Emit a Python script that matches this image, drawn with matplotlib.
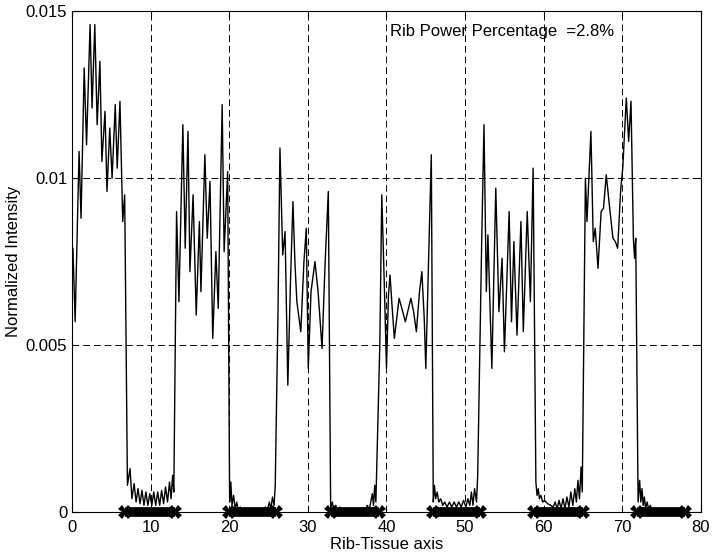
import matplotlib.pyplot as plt
import numpy as np

plt.rcParams.update({
    "font.family": ["Liberation Sans", "DejaVu Sans"],
    "font.size": 12,
})

# tissue segments (high intensity)
x_t1 = [0.0, 0.12, 0.4, 0.9, 1.15, 1.55, 1.85, 2.3, 2.55, 2.9, 3.2, 3.55, 3.8, 4.2, 4.45, 4.8, 5.1, 5.5, 5.75, 6.1, 6.45, 6.7]
y_t1 = [0.0072, 0.0079, 0.0057, 0.0108, 0.0088, 0.0133, 0.0110, 0.0146, 0.0121, 0.0146, 0.0116, 0.0135, 0.0105, 0.0120, 0.0096, 0.0115, 0.0100, 0.0122, 0.0103, 0.0123, 0.0087, 0.0095]

x_t2 = [13.3, 13.6, 14.1, 14.4, 14.75, 15.0, 15.4, 15.8, 16.2, 16.4, 16.9, 17.2, 17.55, 17.9, 18.3, 18.6, 19.1, 19.35, 19.8]
y_t2 = [0.0090, 0.0063, 0.0116, 0.0079, 0.0114, 0.0072, 0.0095, 0.0059, 0.0087, 0.0066, 0.0107, 0.0082, 0.0099, 0.0052, 0.0078, 0.0061, 0.0122, 0.0078, 0.0102]

x_t3 = [26.2, 26.45, 26.8, 27.1, 27.45, 27.8, 28.1, 28.35, 28.6, 29.1, 29.5, 29.8, 30.05, 30.4, 30.9, 31.3, 31.8, 32.2, 32.6]
y_t3 = [0.0060, 0.0109, 0.0077, 0.0084, 0.0038, 0.0070, 0.0093, 0.0075, 0.0063, 0.0054, 0.0075, 0.0085, 0.0043, 0.0066, 0.0075, 0.0066, 0.0049, 0.0075, 0.0096]

x_t4 = [39.15, 39.4, 39.7, 40.0, 40.25, 40.45, 40.7, 41.0, 41.3, 41.6, 41.95, 42.4, 42.8, 43.1, 43.45, 43.8, 44.2, 44.5, 44.8, 45.0, 45.35, 45.7]
y_t4 = [0.0050, 0.0095, 0.0070, 0.0043, 0.0065, 0.0071, 0.0062, 0.0052, 0.0058, 0.0064, 0.0061, 0.0057, 0.0061, 0.0064, 0.0060, 0.0054, 0.0066, 0.0072, 0.0058, 0.0043, 0.0075, 0.0107]

x_t5 = [52.1, 52.4, 52.7, 52.9, 53.4, 53.9, 54.3, 54.7, 55.0, 55.6, 55.9, 56.2, 56.6, 57.1, 57.4, 57.9, 58.3, 58.65]
y_t5 = [0.0080, 0.0116, 0.0066, 0.0083, 0.0043, 0.0097, 0.0060, 0.0076, 0.0048, 0.0090, 0.0057, 0.0081, 0.0053, 0.0087, 0.0054, 0.0090, 0.0063, 0.0103]

x_t6 = [65.3, 65.5, 66.0, 66.3, 66.55, 66.9, 67.3, 67.6, 67.95, 68.3, 68.8, 69.1, 69.4, 69.8, 70.05, 70.5, 70.8, 71.1, 71.4, 71.55, 71.7]
y_t6 = [0.0100, 0.0087, 0.0114, 0.0081, 0.0085, 0.0073, 0.0090, 0.0091, 0.0101, 0.0093, 0.0082, 0.0081, 0.0079, 0.0097, 0.0103, 0.0124, 0.0111, 0.0123, 0.0082, 0.0076, 0.0082]

# rib segments (low intensity)
x_r1 = [7.05, 7.38, 7.62, 7.9, 8.15, 8.4, 8.65, 8.9, 9.15, 9.4, 9.65, 9.9, 10.15, 10.4, 10.65, 10.9, 11.15, 11.4, 11.65, 11.9, 12.15, 12.4, 12.6, 12.8, 12.95]
y_r1 = [0.0008, 0.0013, 0.0004, 0.00085, 0.0003, 0.0007, 0.00025, 0.00065, 0.0002, 0.0006, 0.0002, 0.00055, 0.0002, 0.0006, 0.0002, 0.0006, 0.0002, 0.00065, 0.00025, 0.00075, 0.0003, 0.0009, 0.0004, 0.0011, 0.0006]

x_r2 = [20.05, 20.2, 20.35, 20.55, 20.75, 20.95, 21.15, 21.4, 21.7, 22.0, 22.5, 23.0, 23.5, 24.0, 24.3, 24.6, 24.85, 25.1, 25.3, 25.5, 25.7, 25.85]
y_r2 = [0.0003, 0.0009, 0.0002, 0.0005, 0.0001, 0.0003, 0.00005, 0.00015, 0.00003, 0.0001, 0.00003, 0.00006, 0.00002, 0.00008, 0.00003, 0.00015, 0.00005, 0.0003, 0.0001, 0.00045, 0.0002, 0.0008]

x_r3 = [32.9, 33.1, 33.3, 33.55, 33.8, 34.05, 34.3, 34.6, 34.9, 35.2, 35.5, 35.8, 36.1, 36.4, 36.7, 37.0, 37.3, 37.55, 37.8, 38.0, 38.2, 38.35, 38.5, 38.65]
y_r3 = [0.0001, 0.0003, 0.00008, 0.0002, 0.00005, 0.00015, 0.00005, 0.00012, 0.00004, 0.0001, 0.00004, 0.0001, 0.00004, 0.0001, 0.00005, 0.00012, 0.00005, 0.0002, 0.00008, 0.0003, 0.00055, 0.0002, 0.0008, 0.0003]

x_r4 = [45.95, 46.1, 46.25, 46.45, 46.65, 46.9, 47.15, 47.4, 47.7, 48.0, 48.3, 48.6, 48.9, 49.2, 49.5, 49.8, 50.1, 50.35, 50.6, 50.8, 51.0, 51.2, 51.45, 51.6]
y_r4 = [0.0003, 0.0008, 0.0004, 0.0006, 0.0003, 0.0004, 0.0002, 0.0003, 0.00015, 0.0003, 0.00015, 0.0003, 0.00015, 0.0003, 0.00015, 0.00035, 0.00015, 0.0004, 0.0002, 0.0006, 0.0002, 0.0007, 0.0003, 0.0011]

x_r5 = [59.0, 59.15, 59.3, 59.45, 59.65, 59.85, 60.1, 60.5, 60.9, 61.2, 61.45, 61.7, 61.95, 62.2, 62.45, 62.7, 62.95, 63.2, 63.45, 63.7, 63.95, 64.15, 64.35, 64.55, 64.75, 64.9]
y_r5 = [0.0009, 0.0005, 0.0007, 0.0004, 0.0005, 0.0003, 0.00035, 0.00025, 0.0002, 0.00015, 0.0003, 0.0001, 0.00035, 0.0001, 0.0004, 0.0001, 0.00045, 0.00015, 0.0006, 0.0002, 0.0007, 0.0003, 0.00095, 0.0004, 0.00135, 0.0006]

x_r6 = [72.0, 72.2, 72.35, 72.5, 72.65, 72.8, 72.95, 73.15, 73.35, 73.55, 73.8, 74.0, 74.3, 74.6, 75.0, 76.0, 77.0, 78.5]
y_r6 = [0.0003, 0.00095, 0.0003, 0.0007, 0.0002, 0.00045, 0.00012, 0.0003, 0.00008, 0.0002, 0.00005, 0.00012, 0.00003, 0.00008, 0.00002, 0.00003, 0.00001, 0.0]

# rib positions marked on the axis
rib_start = [6.75, 20.0, 33.0, 45.9, 58.8, 71.8]
rib_end = [13.05, 26.0, 39.0, 51.9, 64.95, 78.0]

rib_power = 2.8

x = np.concatenate([x_t1, x_r1, x_t2, x_r2, x_t3, x_r3, x_t4, x_r4, x_t5, x_r5, x_t6, x_r6])
y = np.concatenate([y_t1, y_r1, y_t2, y_r2, y_t3, y_r3, y_t4, y_r4, y_t5, y_r5, y_t6, y_r6])

fig = plt.figure(figsize=(7.15, 5.59), dpi=100)
ax = fig.add_axes([0.1007, 0.084, 0.8797, 0.896])

ax.plot(x, y, color="black", linewidth=1.0, zorder=3)

for s, e in zip(rib_start, rib_end):
    ax.plot([s, e], [0, 0], color="black", linewidth=7, solid_capstyle="butt", clip_on=False, zorder=5)
    ax.plot([s, e], [0, 0], linestyle="none", marker="X", markersize=10, markeredgewidth=0,
            color="black", clip_on=False, zorder=6)

ax.set_xlim(0, 80)
ax.set_ylim(0, 0.015)
ax.set_xticks(np.arange(0, 81, 10))
ax.set_yticks([0, 0.005, 0.01, 0.015])
ax.set_yticklabels(["0", "0.005", "0.01", "0.015"])
ax.tick_params(direction="in", top=True, right=True, length=4, labelsize=12)
ax.tick_params(axis="x", pad=6)
ax.grid(True, color="black", linestyle=(0, (7, 4)), linewidth=0.7)

ax.set_xlabel("Rib-Tissue axis", fontsize=12, labelpad=1)
ax.set_ylabel("Normalized Intensity", fontsize=12, labelpad=3)
ax.text(40.5, 0.0144, f"Rib Power Percentage  ={rib_power}%", fontsize=12, ha="left", va="center")

plt.savefig("out.png", dpi=100)
